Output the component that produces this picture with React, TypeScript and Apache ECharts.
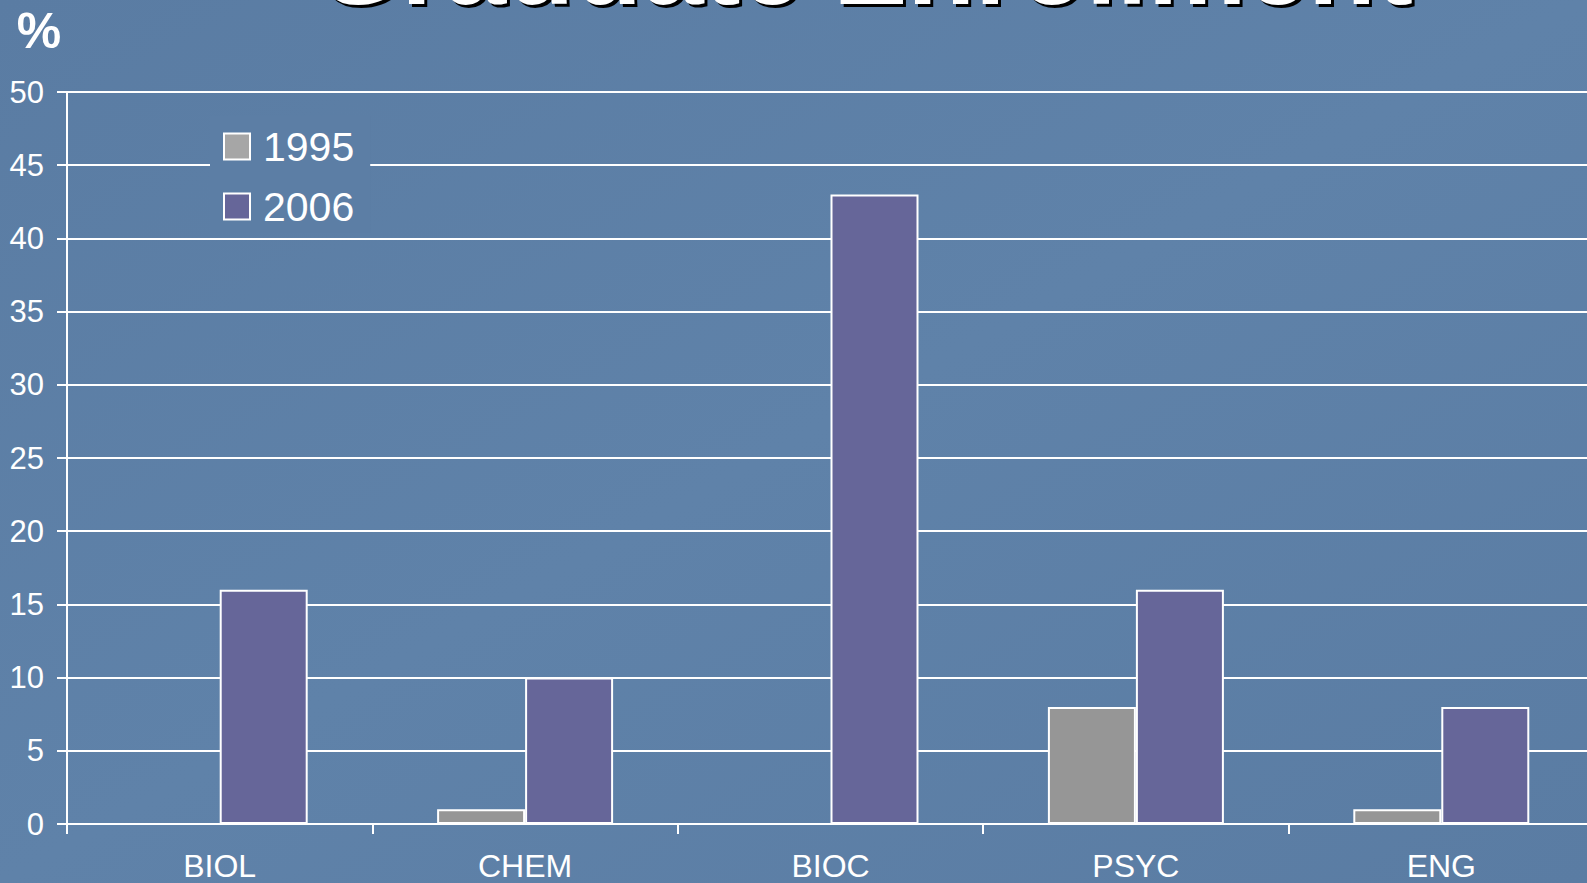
import React, { useEffect, useRef } from "react";
import * as echarts from "echarts";

// Graduate enrollment share by department (%)
const departments = ["BIOL", "CHEM", "BIOC", "PSYC", "ENG"];
const enrollment1995 = [0, 1, 0, 8, 1];
const enrollment2006 = [16, 10, 43, 16, 8];
const seriesNames = ["1995", "2006"];

const yMin = 0;
const yMax = 50;
const yStep = 5;

const FONT = "'Liberation Sans', Arial, sans-serif";
const BG = "#5c7ea5";
const GRAY = "#969696";
const PURPLE = "#666699";

export default function App() {
  const ref = useRef<HTMLDivElement>(null);

  useEffect(() => {
    if (!ref.current) return;
    const chart = echarts.init(ref.current, null, { renderer: "svg" });

    const title = "Graduate Enrollment";

    chart.setOption({
      animation: false,
      backgroundColor: {
        type: "linear",
        x: 0,
        y: 0,
        x2: 1,
        y2: 1,
        colorStops: [
          { offset: 0, color: "#5a7ca3" },
          { offset: 0.5, color: "#5f82a9" },
          { offset: 1, color: "#5a7ca3" },
        ],
      },
      textStyle: { fontFamily: FONT },
      graphic: [
        // title drop shadow
        {
          type: "text",
          z: 10,
          style: {
            text: title,
            fill: "#000000",
            font: `bold 111px ${FONT}`,
            textVerticalAlign: "middle",
          },
          position: [318, -31.5],
        },
        {
          type: "text",
          z: 11,
          style: {
            text: title,
            fill: "#ffffff",
            font: `bold 111px ${FONT}`,
            textVerticalAlign: "middle",
          },
          position: [315, -34.5],
        },
        {
          type: "text",
          z: 11,
          style: {
            text: "%",
            fill: "#ffffff",
            font: `bold 50px ${FONT}`,
            textAlign: "center",
            textVerticalAlign: "middle",
          },
          position: [39, 31],
        },
      ],
      legend: {
        orient: "vertical",
        left: 210,
        top: 116,
        padding: [10, 16, 6, 13],
        backgroundColor: BG,
        itemWidth: 26,
        itemHeight: 26,
        itemGap: 19,
        icon: "rect",
        data: [
          { name: seriesNames[0], itemStyle: { color: "#a6a6a6", borderColor: "#ffffff", borderWidth: 2 } },
          { name: seriesNames[1], itemStyle: { color: PURPLE, borderColor: "#ffffff", borderWidth: 2 } },
        ],
        textStyle: {
          color: "#ffffff",
          fontSize: 41,
          lineHeight: 41,
          fontFamily: FONT,
          padding: [0, 0, 0, 8],
        },
      },
      grid: {
        left: 67,
        right: -7,
        top: 92,
        bottom: 59,
        containLabel: false,
        outerBoundsMode: "none",
      },
      xAxis: {
        type: "category",
        data: departments,
        axisLine: { show: true, lineStyle: { color: "#ffffff", width: 2 } },
        axisTick: { show: true, length: 10, lineStyle: { color: "#ffffff", width: 2 } },
        axisLabel: { color: "#ffffff", fontSize: 32, fontFamily: FONT, margin: 26 },
        splitLine: { show: false },
      },
      yAxis: {
        type: "value",
        min: yMin,
        max: yMax,
        interval: yStep,
        axisLine: { show: true, lineStyle: { color: "#ffffff", width: 2 } },
        axisTick: { show: true, length: 10, lineStyle: { color: "#ffffff", width: 2 } },
        axisLabel: { color: "#ffffff", fontSize: 31, fontFamily: FONT, margin: 23 },
        splitLine: { show: true, lineStyle: { color: "#ffffff", width: 2 } },
      },
      series: [
        {
          name: seriesNames[0],
          type: "bar",
          data: enrollment1995,
          barWidth: 88,
          barGap: "0%",
          itemStyle: { color: GRAY, borderColor: "#ffffff", borderWidth: 2 },
        },
        {
          name: seriesNames[1],
          type: "bar",
          data: enrollment2006,
          barWidth: 88,
          barGap: "0%",
          itemStyle: { color: PURPLE, borderColor: "#ffffff", borderWidth: 2 },
        },
      ],
    });

    return () => chart.dispose();
  }, []);

  return (
    <div
      ref={ref}
      style={{ position: "fixed", left: 0, top: 0, width: 1587, height: 883, background: BG }}
    />
  );
}
